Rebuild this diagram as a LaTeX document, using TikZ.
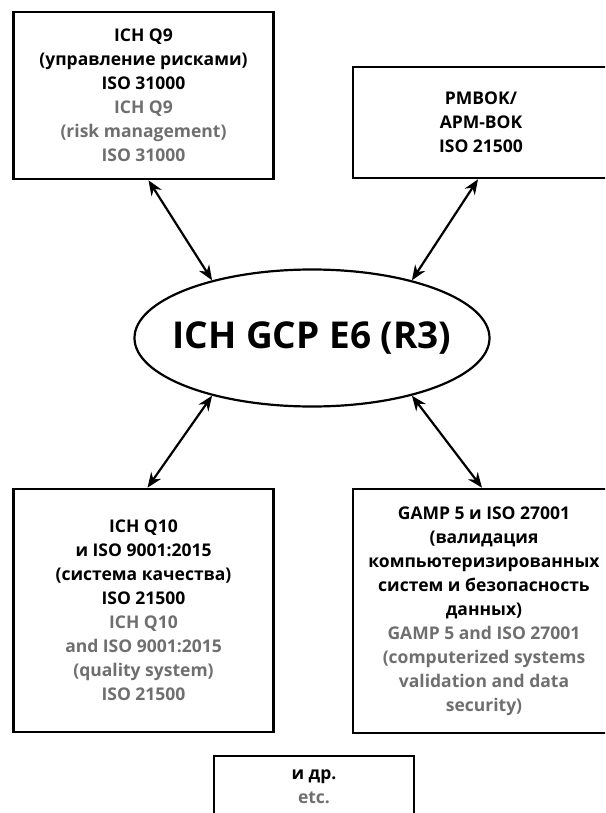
\documentclass[tikz,border=0pt]{standalone}
\usepackage{fontspec}
\setmainfont{Open Sans}
\usetikzlibrary{arrows.meta,shapes.geometric}
\definecolor{engray}{HTML}{6F6F6F}
\newcommand{\en}[1]{\textcolor{engray}{#1}}

\begin{document}
\begin{tikzpicture}[x=1pt,y=-1pt,
    stdbox/.style={draw, rectangle, line width=2.6pt, align=center, inner sep=0pt,
      font=\fontsize{17.5}{24}\selectfont\bfseries},
    link/.style={{Stealth[length=15pt,width=12pt]}-{Stealth[length=15pt,width=12pt]}, line width=2.2pt}]
  \useasboundingbox (0,0) rectangle (605,813);
  \clip (0,0) rectangle (605,813);

  \node[draw, ellipse, line width=2.2pt, inner xsep=-14pt, minimum height=137pt,
    font=\fontsize{37}{44}\selectfont\bfseries] (gcp) at (312,338) {ICH GCP E6 (R3)};

  \node[stdbox, minimum width=260pt, minimum height=167pt] (riskbox) at (143.5,95.5)
    {ICH Q9\\(управление рисками)\\ISO 31000\\\en{ICH Q9}\\\en{(risk management)}\\\en{ISO 31000}};
  \node[stdbox, minimum width=256pt, minimum height=111pt] (pmbox) at (481,122.5)
    {PMBOK/\\APM-BOK\\ISO 21500};
  \node[stdbox, minimum width=260pt, minimum height=243pt] (qualbox) at (143.5,610.5)
    {ICH Q10\\и ISO 9001:2015\\(система качества)\\ISO 21500\\\en{ICH Q10}\\\en{and ISO 9001:2015}\\\en{(quality system)}\\\en{ISO 21500}};
  \node[stdbox, minimum width=262pt, minimum height=244pt] (gampbox) at (484,611)
    {GAMP 5 и ISO 27001\\(валидация\\компьютеризированных\\систем и безопасность\\данных)\\\en{GAMP 5 and ISO 27001}\\\en{(computerized systems}\\\en{validation and data}\\\en{security)}};
  \node[stdbox, minimum width=200pt, minimum height=62pt] (etcbox) at (314,787)
    {и др.\\\en{etc.}};

  % two-way links to the centre
  \draw[link] (gcp.150) -- ([xshift=5pt]riskbox.south);
  \draw[link] (gcp.30) -- ([xshift=-3pt]pmbox.south);
  \draw[link] (gcp.210) -- ([xshift=4pt]qualbox.north);
  \draw[link] (gcp.330) -- ([xshift=-2pt]gampbox.north);
\end{tikzpicture}
\end{document}
